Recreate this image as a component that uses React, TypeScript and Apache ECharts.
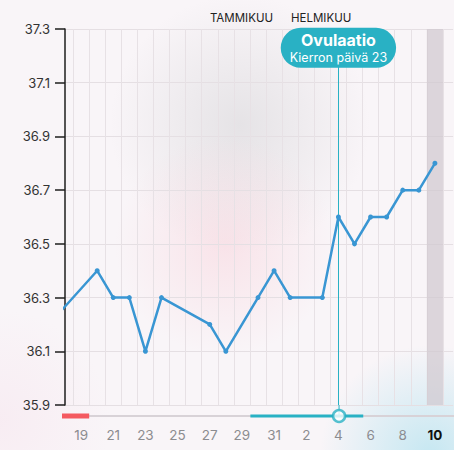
import React, { useEffect, useRef } from "react";
import * as echarts from "echarts";

// Days shown on the axis: 17 Jan .. 11 Feb (index 0..25)
const DAYS = [17, 18, 19, 20, 21, 22, 23, 24, 25, 26, 27, 28, 29, 30, 31, 1, 2, 3, 4, 5, 6, 7, 8, 9, 10, 11];
// Basal temperature per day (null = not measured)
const TEMPS: (number | null)[] = [
  36.2, null, null, 36.4, 36.3, 36.3, 36.1, 36.3, null, null, 36.2, 36.1, null, 36.3, 36.4,
  36.3, null, 36.3, 36.6, 36.5, 36.6, 36.6, 36.7, 36.7, 36.8, null,
];
const Y_TICKS = [35.9, 36.1, 36.3, 36.5, 36.7, 36.9, 37.1, 37.3];
const MONTHS = ["TAMMIKUU", "HELMIKUU"];
const OVULATION_DAY = 18; // index of Feb 4
const TODAY = 24; // index of Feb 10
const PERIOD_RANGE = [0.5, 2.5];
const FERTILE_RANGE = [12.5, 19.5];
const TITLE = "Ovulaatio";
const SUBTITLE = "Kierron päivä 23";

const BASE = Y_TICKS[0];
const X_MIN = 1;
const X_MAX = 25.13;
const TEAL = "#29b1c4";
const BLUE = "#3996d3";
const FONT = "Inter, 'Liberation Sans', sans-serif";

export default function App() {
  const ref = useRef<HTMLDivElement>(null);
  useEffect(() => {
    if (!ref.current) return;
    const chart = echarts.init(ref.current, undefined, { renderer: "svg" });
    const lineData = TEMPS.map((t, i) => (t == null ? null : [i, +(t - BASE).toFixed(2)])).filter(Boolean);
    const topVal = Y_TICKS[Y_TICKS.length - 1] - BASE;

    chart.setOption({
      animation: false,
      backgroundColor: "transparent",
      textStyle: { fontFamily: FONT },
      graphic: [
        { type: "circle", z: -10, silent: true, shape: { cx: 240, cy: 125, r: 130 },
          style: { fill: { type: "radial", x: 0.5, y: 0.5, r: 0.5, colorStops: [
            { offset: 0, color: "rgba(205,205,208,0.45)" }, { offset: 1, color: "rgba(205,205,208,0)" }] } } },
        { type: "circle", z: -10, silent: true, shape: { cx: 225, cy: 245, r: 110 },
          style: { fill: { type: "radial", x: 0.5, y: 0.5, r: 0.5, colorStops: [
            { offset: 0, color: "rgba(248,200,210,0.4)" }, { offset: 1, color: "rgba(248,200,210,0)" }] } } },
        { type: "circle", z: -10, silent: true, shape: { cx: 430, cy: 455, r: 110 },
          style: { fill: { type: "radial", x: 0.5, y: 0.5, r: 0.5, colorStops: [
            { offset: 0, color: "rgba(185,228,240,0.8)" }, { offset: 1, color: "rgba(185,228,240,0)" }] } } },
        { type: "circle", z: -10, silent: true, shape: { cx: 0, cy: 420, r: 110 },
          style: { fill: { type: "radial", x: 0.5, y: 0.5, r: 0.5, colorStops: [
            { offset: 0, color: "rgba(245,220,232,0.35)" }, { offset: 1, color: "rgba(245,220,232,0)" }] } } },
        { type: "text", x: 273, y: 18, style: { text: MONTHS[0], fill: "#222", font: `400 11.5px ${FONT}`, textAlign: "right", textVerticalAlign: "middle" } },
        { type: "text", x: 291, y: 18, style: { text: MONTHS[1], fill: "#222", font: `400 11.5px ${FONT}`, textAlign: "left", textVerticalAlign: "middle" } },
      ],
      grid: [
        { left: 65, right: 0, top: 29, bottom: 45 },
        { left: 65, right: 0, top: 405, height: 22 },
      ],
      xAxis: [
        {
          type: "value", gridIndex: 0, min: X_MIN, max: X_MAX, interval: 1,
          axisLine: { show: false }, axisTick: { show: false },
          splitLine: { show: false },
          minorTick: { show: false, splitNumber: 2 },
          minorSplitLine: { show: true, lineStyle: { color: "#e7e1e5", width: 1 } },
          axisLabel: {
            margin: 23, fontSize: 13.5, color: "#8c8c90", showMaxLabel: false, showMinLabel: false,
            formatter: (v: number) => {
              if (!Number.isInteger(v) || v % 2 !== 0 || v < 2 || v > 24) return "";
              return v === TODAY ? `{b|${DAYS[v]}}` : String(DAYS[v]);
            },
            rich: { b: { fontSize: 13.5, fontWeight: "bold", color: "#111", fontFamily: FONT } },
          },
        },
        { type: "value", gridIndex: 1, min: X_MIN, max: X_MAX, show: false },
      ],
      yAxis: [
        {
          type: "value", gridIndex: 0, min: 0, max: topVal, interval: 0.2,
          axisLine: { show: true, lineStyle: { color: "#1e1e1e", width: 1.5 } },
          axisTick: { show: true, length: 10, lineStyle: { color: "#1e1e1e", width: 1.5 } },
          axisLabel: { margin: 15, fontSize: 13, color: "#333", formatter: (v: number) => (v + BASE).toFixed(1) },
          splitLine: { show: true, lineStyle: { color: "#e5dfe3", width: 1 } },
        },
        { type: "value", gridIndex: 1, min: 0, max: 1, show: false },
      ],
      series: [
        {
          type: "line", xAxisIndex: 0, yAxisIndex: 0, data: lineData, connectNulls: true,
          symbol: "circle", symbolSize: 5, showSymbol: true,
          lineStyle: { color: BLUE, width: 2.5 }, itemStyle: { color: BLUE },
          z: 5,
          markArea: {
            silent: true, itemStyle: { color: "rgba(208,200,206,0.7)" },
            data: [[{ xAxis: TODAY - 0.5 }, { xAxis: TODAY + 0.5 }]],
          },
          markLine: {
            silent: true, symbol: "none", label: { show: false },
            lineStyle: { color: TEAL, width: 1, type: "solid" },
            data: [{ xAxis: OVULATION_DAY }],
          },
          markPoint: {
            silent: true, symbol: "circle", symbolSize: 0,
            data: [{ coord: [OVULATION_DAY, topVal - 0.07] }],
            label: {
              show: true, position: "inside",
              backgroundColor: TEAL, borderRadius: 20, padding: [2, 9, 3, 9],
              formatter: `{t|${TITLE}}\n{s|${SUBTITLE}}`,
              rich: {
                t: { fontSize: 16, fontWeight: "bold", color: "#fff", lineHeight: 20, align: "center", fontFamily: FONT },
                s: { fontSize: 12.5, color: "#fff", lineHeight: 15, align: "center", fontFamily: FONT },
              },
            },
          },
        },
        {
          type: "line", xAxisIndex: 1, yAxisIndex: 1, symbol: "none", silent: true,
          lineStyle: { color: "#d8d2d7", width: 2 }, data: [[X_MIN, 0.5], [X_MAX, 0.5]],
        },
        {
          type: "line", xAxisIndex: 1, yAxisIndex: 1, symbol: "none", silent: true,
          lineStyle: { color: "#f45a60", width: 5 }, data: PERIOD_RANGE.map((x) => [x, 0.5]),
        },
        {
          type: "line", xAxisIndex: 1, yAxisIndex: 1, symbol: "none", silent: true,
          lineStyle: { color: TEAL, width: 3 }, data: FERTILE_RANGE.map((x) => [x, 0.5]),
        },
        {
          type: "line", xAxisIndex: 1, yAxisIndex: 1, symbol: "none", silent: true,
          lineStyle: { color: TEAL, width: 1 }, data: [[OVULATION_DAY, 1], [OVULATION_DAY, 0.5]],
        },
        {
          type: "scatter", xAxisIndex: 1, yAxisIndex: 1, silent: true, symbolSize: 12,
          itemStyle: { color: "#fff", borderColor: TEAL, borderWidth: 2.5 },
          data: [[OVULATION_DAY, 0.5]], z: 10,
        },
      ],
    });
    return () => chart.dispose();
  }, []);
  return (
    <div style={{ position: "fixed", left: 0, top: 0, width: 454, height: 450, background: "#f9f5f8" }}>
      <div ref={ref} style={{ width: 454, height: 450 }} />
    </div>
  );
}
